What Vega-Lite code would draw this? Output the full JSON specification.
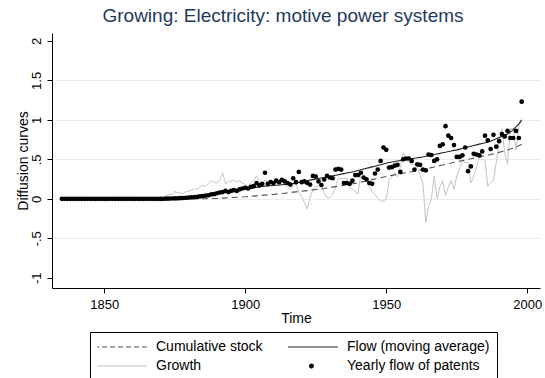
{
  "$schema": "https://vega.github.io/schema/vega-lite/v6.json",
  "width": 488,
  "height": 255,
  "autosize": {"type": "none"},
  "padding": {"left": 52, "top": 33, "right": 5, "bottom": 90},
  "background": "white",
  "title": {"text": "Growing: Electricity: motive power systems", "font": "Liberation Sans", "fontSize": 19, "fontWeight": "normal", "color": "#1f3a60", "anchor": "middle", "dx": -13, "offset": 7},
  "config": {
    "view": {"stroke": null},
    "axis": {"labelFont": "Liberation Sans", "labelFontSize": 13, "titleFont": "Liberation Sans", "titleFontSize": 14, "titleFontWeight": "normal", "labelColor": "#000", "titleColor": "#000", "tickColor": "#000", "domainColor": "#000", "tickSize": 5, "gridColor": "#e4eef0"}
  },
  "data": {"values": [
{"year":1835,"stock":0,"flow":0,"growth":0,"patents":0},
{"year":1836,"stock":0,"flow":0,"growth":0,"patents":0},
{"year":1837,"stock":0,"flow":0,"growth":0,"patents":0},
{"year":1838,"stock":0,"flow":0,"growth":0,"patents":0},
{"year":1839,"stock":0,"flow":0,"growth":0,"patents":0},
{"year":1840,"stock":0,"flow":0,"growth":0,"patents":0},
{"year":1841,"stock":0,"flow":0,"growth":0,"patents":0},
{"year":1842,"stock":0,"flow":0,"growth":0,"patents":0},
{"year":1843,"stock":0,"flow":0,"growth":0,"patents":0},
{"year":1844,"stock":0,"flow":0,"growth":0,"patents":0},
{"year":1845,"stock":0,"flow":0,"growth":0,"patents":0},
{"year":1846,"stock":0,"flow":0,"growth":0,"patents":0},
{"year":1847,"stock":0,"flow":0,"growth":0,"patents":0},
{"year":1848,"stock":0,"flow":0,"growth":0,"patents":0},
{"year":1849,"stock":0,"flow":0,"growth":0,"patents":0},
{"year":1850,"stock":0,"flow":0,"growth":0,"patents":0},
{"year":1851,"stock":0,"flow":0,"growth":0,"patents":0},
{"year":1852,"stock":0,"flow":0,"growth":0,"patents":0},
{"year":1853,"stock":0,"flow":0,"growth":0,"patents":0},
{"year":1854,"stock":0,"flow":0,"growth":0,"patents":0},
{"year":1855,"stock":0,"flow":0,"growth":0,"patents":0},
{"year":1856,"stock":0,"flow":0,"growth":0,"patents":0},
{"year":1857,"stock":0,"flow":0,"growth":0,"patents":0},
{"year":1858,"stock":0,"flow":0,"growth":0,"patents":0},
{"year":1859,"stock":0,"flow":0,"growth":0,"patents":0},
{"year":1860,"stock":0,"flow":0,"growth":0,"patents":0},
{"year":1861,"stock":0,"flow":0,"growth":0,"patents":0},
{"year":1862,"stock":0,"flow":0,"growth":0,"patents":0},
{"year":1863,"stock":0,"flow":0,"growth":0,"patents":0},
{"year":1864,"stock":0,"flow":0,"growth":0,"patents":0},
{"year":1865,"stock":0,"flow":0,"growth":0,"patents":0},
{"year":1866,"stock":0,"flow":0,"growth":0,"patents":0},
{"year":1867,"stock":0,"flow":0,"growth":0,"patents":0},
{"year":1868,"stock":0,"flow":0,"growth":0,"patents":0},
{"year":1869,"stock":0,"flow":0,"growth":0,"patents":0},
{"year":1870,"stock":0,"flow":0,"growth":0,"patents":0},
{"year":1871,"stock":0,"flow":0.001,"growth":0.01,"patents":0},
{"year":1872,"stock":0,"flow":0.002,"growth":0.04,"patents":0.002},
{"year":1873,"stock":0,"flow":0.003,"growth":0.06,"patents":0.003},
{"year":1874,"stock":0,"flow":0.004,"growth":0.05,"patents":0.004},
{"year":1875,"stock":0,"flow":0.005,"growth":0.09,"patents":0.005},
{"year":1876,"stock":0,"flow":0.007,"growth":0.08,"patents":0.006},
{"year":1877,"stock":0,"flow":0.009,"growth":0.07,"patents":0.008},
{"year":1878,"stock":0,"flow":0.011,"growth":0.07,"patents":0.01},
{"year":1879,"stock":0,"flow":0.013,"growth":0.09,"patents":0.012},
{"year":1880,"stock":0,"flow":0.015,"growth":0.1,"patents":0.015},
{"year":1881,"stock":0,"flow":0.019,"growth":0.11,"patents":0.018},
{"year":1882,"stock":0,"flow":0.023,"growth":0.13,"patents":0.02},
{"year":1883,"stock":0,"flow":0.028,"growth":0.12,"patents":0.025},
{"year":1884,"stock":0,"flow":0.033,"growth":0.15,"patents":0.03},
{"year":1885,"stock":0,"flow":0.038,"growth":0.17,"patents":0.035},
{"year":1886,"stock":0.001,"flow":0.043,"growth":0.16,"patents":0.04},
{"year":1887,"stock":0.002,"flow":0.048,"growth":0.2,"patents":0.045},
{"year":1888,"stock":0.003,"flow":0.054,"growth":0.23,"patents":0.055},
{"year":1889,"stock":0.004,"flow":0.06,"growth":0.21,"patents":0.06},
{"year":1890,"stock":0.005,"flow":0.066,"growth":0.2,"patents":0.07},
{"year":1891,"stock":0.007,"flow":0.072,"growth":0.24,"patents":0.08},
{"year":1892,"stock":0.009,"flow":0.078,"growth":0.33,"patents":0.085},
{"year":1893,"stock":0.011,"flow":0.084,"growth":0.19,"patents":0.1},
{"year":1894,"stock":0.013,"flow":0.09,"growth":0.22,"patents":0.085},
{"year":1895,"stock":0.015,"flow":0.096,"growth":0.22,"patents":0.1},
{"year":1896,"stock":0.017,"flow":0.102,"growth":0.24,"patents":0.11},
{"year":1897,"stock":0.019,"flow":0.108,"growth":0.21,"patents":0.1},
{"year":1898,"stock":0.021,"flow":0.114,"growth":0.23,"patents":0.12},
{"year":1899,"stock":0.023,"flow":0.12,"growth":0.2,"patents":0.13},
{"year":1900,"stock":0.025,"flow":0.125,"growth":0.18,"patents":0.14},
{"year":1901,"stock":0.028,"flow":0.13,"growth":0.15,"patents":0.13},
{"year":1902,"stock":0.031,"flow":0.135,"growth":0.2,"patents":0.15},
{"year":1903,"stock":0.034,"flow":0.14,"growth":0.24,"patents":0.16},
{"year":1904,"stock":0.037,"flow":0.145,"growth":0.29,"patents":0.2},
{"year":1905,"stock":0.04,"flow":0.15,"growth":0.22,"patents":0.17},
{"year":1906,"stock":0.043,"flow":0.155,"growth":0.17,"patents":0.19},
{"year":1907,"stock":0.046,"flow":0.16,"growth":0.24,"patents":0.33},
{"year":1908,"stock":0.049,"flow":0.163,"growth":0.21,"patents":0.19},
{"year":1909,"stock":0.052,"flow":0.166,"growth":0.23,"patents":0.21},
{"year":1910,"stock":0.055,"flow":0.169,"growth":0.2,"patents":0.2},
{"year":1911,"stock":0.059,"flow":0.172,"growth":0.19,"patents":0.23},
{"year":1912,"stock":0.063,"flow":0.175,"growth":0.22,"patents":0.21},
{"year":1913,"stock":0.067,"flow":0.178,"growth":0.21,"patents":0.24},
{"year":1914,"stock":0.071,"flow":0.181,"growth":0.18,"patents":0.22},
{"year":1915,"stock":0.075,"flow":0.184,"growth":0.15,"patents":0.2},
{"year":1916,"stock":0.08,"flow":0.187,"growth":0.12,"patents":0.18},
{"year":1917,"stock":0.084,"flow":0.194,"growth":0.17,"patents":0.26},
{"year":1918,"stock":0.088,"flow":0.201,"growth":0.19,"patents":0.21},
{"year":1919,"stock":0.092,"flow":0.208,"growth":0.08,"patents":0.34},
{"year":1920,"stock":0.096,"flow":0.215,"growth":0.03,"patents":0.21},
{"year":1921,"stock":0.1,"flow":0.222,"growth":-0.05,"patents":0.22},
{"year":1922,"stock":0.104,"flow":0.229,"growth":-0.13,"patents":0.2},
{"year":1923,"stock":0.108,"flow":0.236,"growth":0.02,"patents":0.18},
{"year":1924,"stock":0.113,"flow":0.243,"growth":0.11,"patents":0.29},
{"year":1925,"stock":0.117,"flow":0.25,"growth":0.15,"patents":0.28},
{"year":1926,"stock":0.121,"flow":0.257,"growth":0.17,"patents":0.22},
{"year":1927,"stock":0.125,"flow":0.264,"growth":0.2,"patents":0.175},
{"year":1928,"stock":0.13,"flow":0.27,"growth":0.07,"patents":0.245},
{"year":1929,"stock":0.136,"flow":0.277,"growth":0.015,"patents":0.29},
{"year":1930,"stock":0.142,"flow":0.284,"growth":0.015,"patents":0.27},
{"year":1931,"stock":0.148,"flow":0.291,"growth":0.05,"patents":0.26},
{"year":1932,"stock":0.154,"flow":0.298,"growth":0.15,"patents":0.37},
{"year":1933,"stock":0.16,"flow":0.305,"growth":0.26,"patents":0.38},
{"year":1934,"stock":0.166,"flow":0.312,"growth":0.26,"patents":0.37},
{"year":1935,"stock":0.172,"flow":0.319,"growth":0.26,"patents":0.2},
{"year":1936,"stock":0.178,"flow":0.326,"growth":0.26,"patents":0.2},
{"year":1937,"stock":0.184,"flow":0.333,"growth":0.15,"patents":0.19},
{"year":1938,"stock":0.19,"flow":0.34,"growth":0.12,"patents":0.23},
{"year":1939,"stock":0.195,"flow":0.35,"growth":0.09,"patents":0.3},
{"year":1940,"stock":0.203,"flow":0.359,"growth":0.06,"patents":0.3},
{"year":1941,"stock":0.211,"flow":0.368,"growth":0.33,"patents":0.33},
{"year":1942,"stock":0.219,"flow":0.377,"growth":0.29,"patents":0.27},
{"year":1943,"stock":0.227,"flow":0.386,"growth":0.25,"patents":0.245},
{"year":1944,"stock":0.235,"flow":0.395,"growth":0.15,"patents":0.2},
{"year":1945,"stock":0.243,"flow":0.404,"growth":0.09,"patents":0.19},
{"year":1946,"stock":0.251,"flow":0.413,"growth":0.05,"patents":0.32},
{"year":1947,"stock":0.259,"flow":0.422,"growth":0.01,"patents":0.37},
{"year":1948,"stock":0.267,"flow":0.431,"growth":-0.03,"patents":0.48},
{"year":1949,"stock":0.275,"flow":0.44,"growth":-0.03,"patents":0.65},
{"year":1950,"stock":0.283,"flow":0.45,"growth":0.0,"patents":0.62},
{"year":1951,"stock":0.29,"flow":0.46,"growth":0.23,"patents":0.395},
{"year":1952,"stock":0.297,"flow":0.466,"growth":0.28,"patents":0.4},
{"year":1953,"stock":0.303,"flow":0.472,"growth":0.33,"patents":0.42},
{"year":1954,"stock":0.31,"flow":0.478,"growth":0.28,"patents":0.43},
{"year":1955,"stock":0.317,"flow":0.484,"growth":0.4,"patents":0.34},
{"year":1956,"stock":0.323,"flow":0.49,"growth":0.58,"patents":0.5},
{"year":1957,"stock":0.33,"flow":0.496,"growth":0.5,"patents":0.51},
{"year":1958,"stock":0.337,"flow":0.502,"growth":0.46,"patents":0.51},
{"year":1959,"stock":0.343,"flow":0.508,"growth":0.44,"patents":0.48},
{"year":1960,"stock":0.35,"flow":0.514,"growth":0.43,"patents":0.37},
{"year":1961,"stock":0.357,"flow":0.52,"growth":0.42,"patents":0.435},
{"year":1962,"stock":0.363,"flow":0.525,"growth":0.3,"patents":0.43},
{"year":1963,"stock":0.37,"flow":0.53,"growth":0.2,"patents":0.37},
{"year":1964,"stock":0.378,"flow":0.538,"growth":-0.3,"patents":0.36},
{"year":1965,"stock":0.387,"flow":0.545,"growth":-0.1,"patents":0.56},
{"year":1966,"stock":0.395,"flow":0.553,"growth":0.0,"patents":0.555},
{"year":1967,"stock":0.403,"flow":0.56,"growth":0.29,"patents":0.48},
{"year":1968,"stock":0.412,"flow":0.568,"growth":0.0,"patents":0.5},
{"year":1969,"stock":0.42,"flow":0.575,"growth":0.15,"patents":0.67},
{"year":1970,"stock":0.428,"flow":0.583,"growth":0.23,"patents":0.69},
{"year":1971,"stock":0.437,"flow":0.59,"growth":0.04,"patents":0.92},
{"year":1972,"stock":0.445,"flow":0.598,"growth":0.15,"patents":0.8},
{"year":1973,"stock":0.453,"flow":0.605,"growth":0.23,"patents":0.77},
{"year":1974,"stock":0.462,"flow":0.613,"growth":0.12,"patents":0.68},
{"year":1975,"stock":0.47,"flow":0.62,"growth":0.29,"patents":0.53},
{"year":1976,"stock":0.477,"flow":0.629,"growth":0.38,"patents":0.53},
{"year":1977,"stock":0.485,"flow":0.638,"growth":0.48,"patents":0.55},
{"year":1978,"stock":0.492,"flow":0.647,"growth":0.46,"patents":0.65},
{"year":1979,"stock":0.5,"flow":0.656,"growth":0.46,"patents":0.35},
{"year":1980,"stock":0.507,"flow":0.665,"growth":0.2,"patents":0.41},
{"year":1981,"stock":0.515,"flow":0.674,"growth":0.29,"patents":0.57},
{"year":1982,"stock":0.522,"flow":0.683,"growth":0.4,"patents":0.56},
{"year":1983,"stock":0.53,"flow":0.692,"growth":0.54,"patents":0.55},
{"year":1984,"stock":0.537,"flow":0.701,"growth":0.5,"patents":0.6},
{"year":1985,"stock":0.545,"flow":0.71,"growth":0.48,"patents":0.8},
{"year":1986,"stock":0.552,"flow":0.72,"growth":0.16,"patents":0.74},
{"year":1987,"stock":0.56,"flow":0.73,"growth":0.2,"patents":0.63},
{"year":1988,"stock":0.569,"flow":0.745,"growth":0.23,"patents":0.81},
{"year":1989,"stock":0.578,"flow":0.76,"growth":0.46,"patents":0.66},
{"year":1990,"stock":0.588,"flow":0.775,"growth":0.73,"patents":0.73},
{"year":1991,"stock":0.598,"flow":0.79,"growth":0.89,"patents":0.82},
{"year":1992,"stock":0.608,"flow":0.805,"growth":0.58,"patents":0.79},
{"year":1993,"stock":0.619,"flow":0.82,"growth":0.44,"patents":0.86},
{"year":1994,"stock":0.63,"flow":0.845,"growth":0.89,"patents":0.77},
{"year":1995,"stock":0.643,"flow":0.875,"growth":0.89,"patents":0.77},
{"year":1996,"stock":0.657,"flow":0.91,"growth":0.62,"patents":0.86},
{"year":1997,"stock":0.672,"flow":0.95,"growth":0.92,"patents":0.77},
{"year":1998,"stock":0.69,"flow":1.0,"growth":0.98,"patents":1.23}
  ]},
  "encoding": {
    "x": {"field": "year", "type": "quantitative", "title": "Time",
      "scale": {"domain": [1831.5, 2004.5], "nice": false, "zero": false},
      "axis": {"values": [1850, 1900, 1950, 2000], "format": "d", "grid": false, "labelPadding": 5, "titlePadding": 0}}
  },
  "layer": [
    {
      "mark": {"type": "line", "strokeWidth": 1},
      "encoding": {
        "y": {"field": "growth", "type": "quantitative", "title": "Diffusion curves",
          "scale": {"domain": [-1.13, 2.1], "nice": false, "zero": false},
          "axis": {"values": [-1, -0.5, 0, 0.5, 1, 1.5, 2], "labelExpr": "replace(datum.value + '', '0.', '.')", "labelAngle": 270, "labelAlign": "center", "labelBaseline": "bottom", "labelPadding": 4, "titlePadding": 0, "grid": true,
            "gridOpacity": {"condition": {"test": "datum.value === 2 || datum.value === -1", "value": 0}, "value": 1}}},
        "color": {"datum": "Growth",
          "scale": {"domain": ["Cumulative stock", "Growth", "Flow (moving average)", "Yearly flow of patents"], "range": ["#555555", "#c4c4c4", "#222222", "#000000"]},
          "legend": {"title": null, "orient": "none", "legendX": 38, "legendY": 299, "columns": 2, "symbolSize": 2800, "clipHeight": 16, "columnPadding": 25, "rowPadding": 3, "padding": 7, "symbolOffset": -4, "strokeColor": "#000", "fillColor": "#fff", "labelFont": "Liberation Sans", "labelFontSize": 14, "labelColor": "#000", "labelOffset": 8, "symbolStrokeWidth": 1.2,
            "encode": {"symbols": {"update": {
              "shape": {"signal": "datum.value === 'Yearly flow of patents' ? 'circle' : 'stroke'"},
              "size": {"signal": "datum.value === 'Yearly flow of patents' ? 14 : 2800"},
              "strokeDash": {"signal": "datum.value === 'Cumulative stock' ? [5, 3] : [1, 0]"},
              "stroke": {"signal": "datum.value === 'Growth' ? '#c4c4c4' : (datum.value === 'Cumulative stock' ? '#555555' : '#000000')"},
              "fill": {"signal": "datum.value === 'Yearly flow of patents' ? '#000000' : 'transparent'"},
              "opacity": {"value": 1}
            }}}}}
      }
    },
    {
      "mark": {"type": "line", "strokeWidth": 1.1, "strokeDash": [6, 4]},
      "encoding": {
        "y": {"field": "stock", "type": "quantitative"},
        "color": {"datum": "Cumulative stock"}
      }
    },
    {
      "mark": {"type": "line", "strokeWidth": 1.1},
      "encoding": {
        "y": {"field": "flow", "type": "quantitative"},
        "color": {"datum": "Flow (moving average)"}
      }
    },
    {
      "mark": {"type": "point", "filled": true, "size": 22, "opacity": 1},
      "encoding": {
        "y": {"field": "patents", "type": "quantitative"},
        "color": {"datum": "Yearly flow of patents"}
      }
    }
  ]
}
